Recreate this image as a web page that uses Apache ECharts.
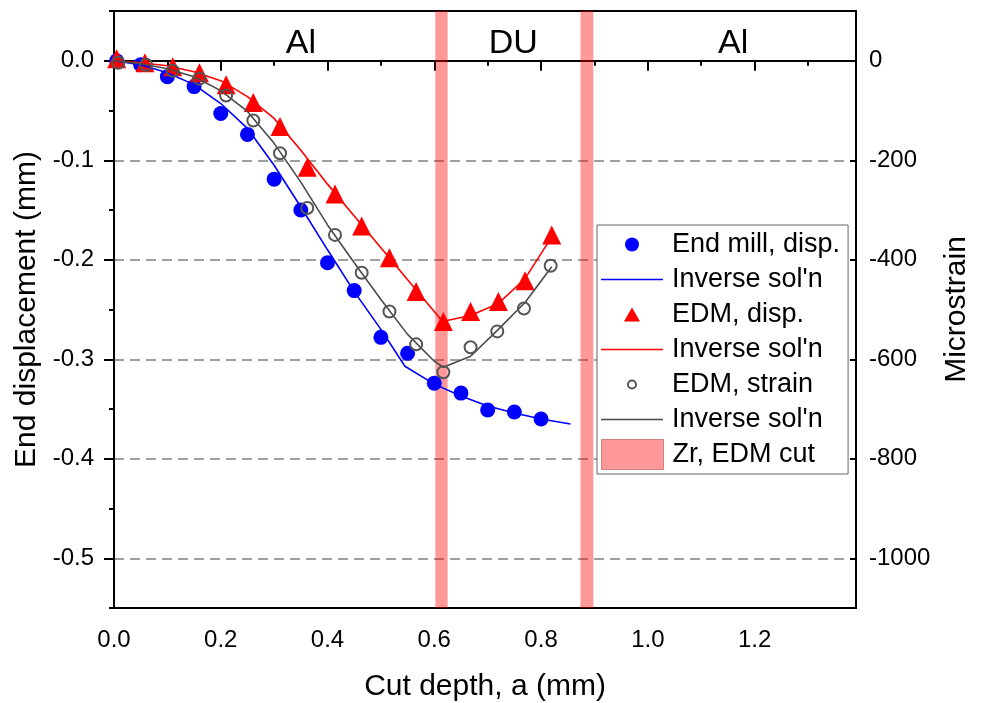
<!DOCTYPE html>
<html>
<head>
<meta charset="utf-8">
<script src="https://cdn.jsdelivr.net/npm/echarts@6/dist/echarts.min.js"></script>
<style>html,body{margin:0;padding:0;background:#fff}#c{width:981px;height:703px}</style>
</head>
<body>
<div id="c"></div>
<script>
// ---- data ----
var endMillX = [0.005,0.05,0.1,0.15,0.2,0.25,0.3,0.35,0.4,0.45,0.5,0.55,0.6,0.65,0.7,0.75,0.8];
var endMillY = [0.0,-0.004,-0.016,-0.026,-0.053,-0.074,-0.119,-0.150,-0.203,-0.231,-0.278,-0.294,-0.324,-0.334,-0.351,-0.353,-0.360];
var invMillX = [0,0.05,0.1,0.15,0.2,0.25,0.3,0.35,0.4,0.45,0.5,0.545,0.6,0.65,0.7,0.75,0.8,0.855];
var invMillY = [0,-0.004,-0.012,-0.024,-0.043,-0.068,-0.105,-0.147,-0.19,-0.232,-0.27,-0.307,-0.325,-0.337,-0.347,-0.354,-0.36,-0.365];
var edmX = [0.005,0.058,0.11,0.16,0.21,0.261,0.311,0.362,0.414,0.464,0.516,0.566,0.617,0.668,0.72,0.77,0.82];
var edmY = [0.002,-0.002,-0.006,-0.012,-0.024,-0.042,-0.066,-0.107,-0.134,-0.166,-0.198,-0.232,-0.262,-0.252,-0.242,-0.221,-0.175];
var invEdmX = [0,0.05,0.1,0.15,0.2,0.25,0.3,0.35,0.4,0.45,0.5,0.55,0.6,0.615,0.668,0.72,0.77,0.82];
var invEdmY = [0,-0.002,-0.005,-0.011,-0.02,-0.036,-0.058,-0.09,-0.124,-0.156,-0.188,-0.22,-0.252,-0.262,-0.256,-0.244,-0.219,-0.177];
var strainX = [0.008,0.06,0.11,0.16,0.21,0.261,0.311,0.362,0.414,0.464,0.516,0.566,0.617,0.668,0.718,0.768,0.818];
var strainY = [-0.002,-0.004,-0.01,-0.018,-0.035,-0.06,-0.093,-0.148,-0.175,-0.213,-0.252,-0.285,-0.313,-0.288,-0.272,-0.249,-0.206];
var invStrainX = [0,0.05,0.1,0.15,0.2,0.25,0.3,0.35,0.4,0.45,0.5,0.55,0.6,0.617,0.668,0.72,0.77,0.82];
var invStrainY = [0,-0.003,-0.008,-0.016,-0.03,-0.051,-0.083,-0.122,-0.165,-0.203,-0.24,-0.275,-0.302,-0.308,-0.297,-0.27,-0.243,-0.207];
var zrBands = [[0.602,0.625],[0.874,0.898]];
var regionNames = ['Al','DU','Al'];
var regionX = [0.35,0.748,1.16];
var regionY = [0.017,0.017,0.017];
var xTicks = [0,0.2,0.4,0.6,0.8,1.0,1.2];
var xMinorTicks = [0.1,0.3,0.5,0.7,0.9,1.1,1.3];
var yTicks = [-0.5,-0.4,-0.3,-0.2,-0.1,0.0];
var yMinorTicks = [-0.55,-0.45,-0.35,-0.25,-0.15,-0.05,0.05];
var strainTicks = [-1000,-800,-600,-400,-200,0];
var legendNames = {
  'End mill, disp.':'End mill, disp.',
  'invA':"Inverse sol'n",
  'EDM, disp.':'EDM, disp.',
  'invB':"Inverse sol'n",
  'EDM, strain':'EDM, strain',
  'invC':"Inverse sol'n",
  'Zr, EDM cut':'Zr, EDM cut'
};

function pairs(xs, ys){ return xs.map(function(x,i){ return [x, ys[i]]; }); }

var FONT = '"Liberation Sans", Arial, sans-serif';
var BLUE = '#0000ff', RED = '#ff0000', GRAY = '#4a4a4a';
var lineIcon = 'path://M0,0L62,0L62,1.6L0,1.6Z';
var smallCircleIcon = 'path://M0,0M14,14M7,3A4,4,0,1,1,7,11A4,4,0,1,1,7,3Z';
var triIcon = 'path://M7.5,0L15,13L0,13Z';

var chart = echarts.init(document.getElementById('c'), null, {renderer:'canvas'});
var option = {
  animation: false,
  backgroundColor: '#fff',
  textStyle: {fontFamily: FONT},
  grid: {left: 114, right: 125, top: 11, bottom: 95, containLabel: false, outerBoundsMode: 'none',
    show: true, borderColor: '#000', borderWidth: 2, backgroundColor: 'transparent'},
  xAxis: [{
    type: 'value', min: 0, max: 1.39, position: 'bottom',
    name: 'Cut depth, a (mm)', nameLocation: 'middle', nameGap: 64,
    nameTextStyle: {fontSize: 30, color: '#000', fontFamily: FONT},
    axisLine: {show: true, lineStyle: {color: '#000', width: 2}},
    axisTick: {show: true, length: 10, lineStyle: {color: '#000', width: 2}, customValues: xTicks},
    axisLabel: {show: true, fontSize: 24, color: '#000', margin: 20, fontFamily: FONT, customValues: xTicks,
      formatter: function(v){ return v.toFixed(1); }},
    splitLine: {show: false}
  },{
    type: 'value', min: 0, max: 1.39, position: 'bottom',
    axisLine: {show: false},
    axisTick: {show: true, length: 5, lineStyle: {color: '#000', width: 2}, customValues: xMinorTicks},
    axisLabel: {show: false},
    splitLine: {show: false}
  }],
  yAxis: [{
    type: 'value', min: -0.55, max: 0.05, position: 'left',
    name: 'End displacement (mm)', nameLocation: 'middle', nameGap: 66,
    nameTextStyle: {fontSize: 30, color: '#000', fontFamily: FONT},
    axisLine: {show: true, lineStyle: {color: '#000', width: 2}},
    axisTick: {show: true, length: 10, lineStyle: {color: '#000', width: 2}, customValues: yTicks},
    axisLabel: {show: true, fontSize: 24, color: '#000', margin: 20, fontFamily: FONT, customValues: yTicks,
      formatter: function(v){ return v.toFixed(1); }},
    splitLine: {show: true, lineStyle: {color: '#808080', width: 1.5, type: [10,6]}}
  },{
    type: 'value', min: -0.55, max: 0.05, position: 'left',
    axisLine: {show: false},
    axisTick: {show: true, length: 5, lineStyle: {color: '#000', width: 2}, customValues: yMinorTicks},
    axisLabel: {show: false},
    splitLine: {show: false}
  },{
    type: 'value', min: -1100, max: 100, position: 'right',
    name: 'Microstrain', nameLocation: 'middle', nameGap: 84,
    nameTextStyle: {fontSize: 30, color: '#000', fontFamily: FONT},
    axisLine: {show: true, lineStyle: {color: '#000', width: 2}},
    axisTick: {show: true, inside: true, length: 6, lineStyle: {color: '#000', width: 2}, customValues: strainTicks},
    axisLabel: {show: true, fontSize: 24, color: '#000', margin: 13, fontFamily: FONT, customValues: strainTicks,
      formatter: function(v){ return String(Math.round(v)); }},
    splitLine: {show: false}
  }],
  legend: [{
    orient: 'vertical', left: 597, top: 225,
    padding: [6, 8, 41, 4],
    itemWidth: 62, itemHeight: 14, itemGap: 8,
    backgroundColor: '#fff', borderColor: '#666', borderWidth: 1, borderRadius: 0,
    selectedMode: false,
    textStyle: {fontSize: 27, color: '#000', fontFamily: FONT, padding: [0,0,0,4]},
    formatter: function(n){ return legendNames[n]; },
    data: [
      {name: 'End mill, disp.', icon: 'circle', itemStyle: {color: BLUE}},
      {name: 'invA', icon: lineIcon, itemStyle: {color: BLUE}},
      {name: 'EDM, disp.', icon: triIcon, itemStyle: {color: RED}},
      {name: 'invB', icon: lineIcon, itemStyle: {color: RED}},
      {name: 'EDM, strain', icon: smallCircleIcon, itemStyle: {color: '#fff', borderColor: '#555', borderWidth: 2}},
      {name: 'invC', icon: lineIcon, itemStyle: {color: GRAY}}
    ]
  },{
    orient: 'vertical', left: 601, top: 439, z: 10,
    padding: 0,
    itemWidth: 62, itemHeight: 30,
    selectedMode: false,
    textStyle: {fontSize: 27, color: '#000', fontFamily: FONT, padding: [0,0,0,4]},
    data: [{name: 'Zr, EDM cut', icon: 'rect', itemStyle: {color: 'rgba(255,0,0,0.4)', borderColor: '#d08080', borderWidth: 1}}]
  }],
  series: [
    {name: 'End mill, disp.', type: 'scatter', xAxisIndex: 0, yAxisIndex: 0, symbol: 'circle', symbolSize: 15,
      itemStyle: {color: BLUE, opacity: 1}, data: pairs(endMillX, endMillY), z: 3},
    {name: 'invA', type: 'line', xAxisIndex: 0, yAxisIndex: 0, symbol: 'none', showSymbol: false,
      lineStyle: {color: BLUE, width: 1.6}, itemStyle: {color: BLUE}, data: pairs(invMillX, invMillY), z: 4},
    {name: 'EDM, disp.', type: 'scatter', xAxisIndex: 0, yAxisIndex: 0, symbol: 'triangle', symbolSize: 19,
      itemStyle: {color: RED, opacity: 1}, data: pairs(edmX, edmY), z: 3},
    {name: 'invB', type: 'line', xAxisIndex: 0, yAxisIndex: 0, symbol: 'none', showSymbol: false,
      lineStyle: {color: RED, width: 1.6}, itemStyle: {color: RED}, data: pairs(invEdmX, invEdmY), z: 4},
    {name: 'EDM, strain', type: 'scatter', xAxisIndex: 0, yAxisIndex: 0, symbol: 'circle', symbolSize: 12,
      itemStyle: {color: 'rgba(255,255,255,0)', borderColor: '#555', borderWidth: 2, opacity: 1}, data: pairs(strainX, strainY), z: 5},
    {name: 'invC', type: 'line', xAxisIndex: 0, yAxisIndex: 0, symbol: 'none', showSymbol: false,
      lineStyle: {color: GRAY, width: 1.6}, itemStyle: {color: GRAY}, data: pairs(invStrainX, invStrainY), z: 4},
    {name: 'Zr, EDM cut', type: 'line', xAxisIndex: 0, yAxisIndex: 0, data: [], z: 8, silent: true,
      itemStyle: {color: 'rgba(255,0,0,0.4)'},
      markArea: {silent: true, itemStyle: {color: 'rgba(255,0,0,0.4)'},
        data: zrBands.map(function(b){ return [{xAxis: b[0]}, {xAxis: b[1]}]; })}},
    {name: 'regions', type: 'scatter', xAxisIndex: 0, yAxisIndex: 0, symbolSize: 0.01, z: 9, silent: true,
      itemStyle: {color: '#000', opacity: 1},
      label: {show: true, position: 'inside', fontSize: 34, color: '#000', opacity: 1, fontFamily: FONT,
        formatter: function(p){ return regionNames[p.dataIndex]; }},
      data: pairs(regionX, regionY)}
  ]
};
chart.setOption(option);
</script>
</body>
</html>
